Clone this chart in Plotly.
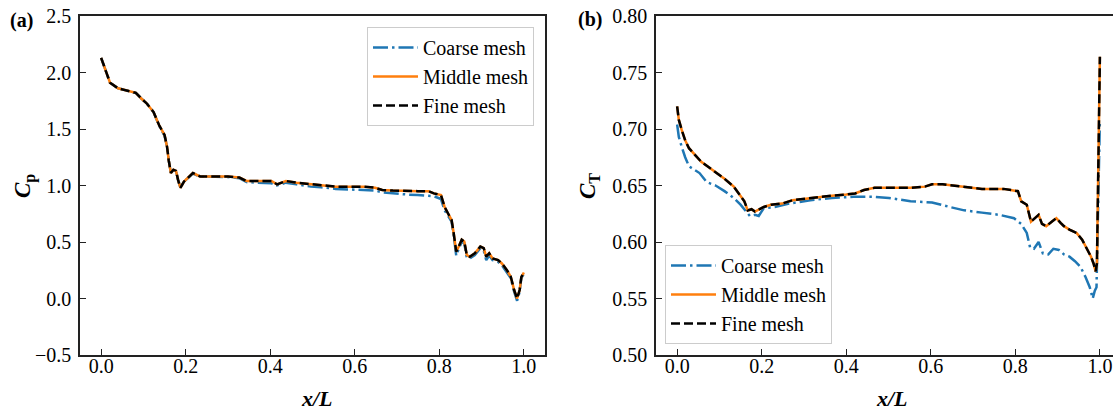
import plotly.graph_objects as go

# ---------------- data ----------------
x_cp = [0.0, 0.01, 0.021, 0.04, 0.065, 0.082, 0.095, 0.107, 0.124, 0.137,
        0.15, 0.156, 0.16, 0.165, 0.171, 0.177, 0.182, 0.1875, 0.196, 0.217,
        0.234, 0.268, 0.30, 0.327, 0.344, 0.369, 0.403, 0.416, 0.437, 0.462,
        0.496, 0.52, 0.555, 0.589, 0.622, 0.648, 0.665, 0.69, 0.724, 0.749,
        0.774, 0.787, 0.804, 0.8125, 0.821, 0.829, 0.834, 0.84, 0.846, 0.853,
        0.859, 0.865, 0.872, 0.884, 0.897, 0.905, 0.911, 0.918, 0.926, 0.939,
        0.948, 0.96, 0.969, 0.977, 0.984, 0.99, 0.994, 1.0]
cp_coarse = [2.13, 2.02, 1.91, 1.86, 1.84, 1.82, 1.77, 1.73, 1.65, 1.53,
             1.44, 1.34, 1.22, 1.11, 1.14, 1.13, 1.05, 0.98, 1.035, 1.105,
             1.08, 1.08, 1.075, 1.065, 1.03, 1.025, 1.02, 1.0, 1.025, 1.01,
             0.99, 0.985, 0.97, 0.965, 0.96, 0.955, 0.94, 0.93, 0.92, 0.915,
             0.91, 0.905, 0.88, 0.78, 0.73, 0.68, 0.56, 0.38, 0.44, 0.50,
             0.49, 0.36, 0.355, 0.385, 0.445, 0.425, 0.34, 0.38, 0.34, 0.325,
             0.295, 0.235, 0.18, 0.06, -0.02, 0.06, 0.18, 0.22]
cp_middle = [2.13, 2.02, 1.91, 1.86, 1.84, 1.82, 1.77, 1.73, 1.65, 1.535,
             1.447, 1.34, 1.22, 1.11, 1.14, 1.13, 1.05, 0.98, 1.035, 1.11,
             1.08, 1.08, 1.08, 1.07, 1.04, 1.04, 1.04, 1.01, 1.04, 1.025,
             1.01, 1.005, 0.99, 0.99, 0.99, 0.98, 0.96, 0.955, 0.95, 0.95,
             0.95, 0.93, 0.915, 0.81, 0.75, 0.695, 0.577, 0.415, 0.46, 0.52,
             0.505, 0.385, 0.37, 0.40, 0.46, 0.445, 0.37, 0.40, 0.355, 0.34,
             0.31, 0.25, 0.193, 0.075, 0.0, 0.075, 0.19, 0.23]
cp_fine = [2.13, 2.02, 1.91, 1.86, 1.84, 1.82, 1.77, 1.73, 1.65, 1.535,
           1.447, 1.34, 1.22, 1.11, 1.14, 1.13, 1.05, 0.98, 1.035, 1.11,
           1.08, 1.08, 1.08, 1.07, 1.04, 1.04, 1.04, 1.01, 1.04, 1.025,
           1.01, 1.005, 0.99, 0.99, 0.99, 0.98, 0.96, 0.955, 0.95, 0.95,
           0.95, 0.93, 0.915, 0.81, 0.75, 0.695, 0.577, 0.415, 0.46, 0.52,
           0.505, 0.385, 0.37, 0.40, 0.46, 0.445, 0.37, 0.40, 0.355, 0.34,
           0.31, 0.25, 0.193, 0.075, 0.0, 0.075, 0.19, 0.23]

x_ct = [0, 0.004, 0.011, 0.019, 0.028, 0.041, 0.057, 0.079, 0.091, 0.112,
        0.134, 0.146, 0.159, 0.167, 0.176, 0.184, 0.193, 0.205, 0.222, 0.248,
        0.273, 0.298, 0.332, 0.366, 0.40, 0.421, 0.442, 0.467, 0.51, 0.552,
        0.586, 0.603, 0.628, 0.653, 0.687, 0.721, 0.772, 0.789, 0.806, 0.814,
        0.827, 0.837, 0.848, 0.855, 0.863, 0.873, 0.886, 0.897, 0.907, 0.915,
        0.928, 0.945, 0.958, 0.97, 0.979, 0.985, 0.99, 0.993, 0.997, 1.0]
ct_middle = [0.720, 0.708, 0.699, 0.690, 0.683, 0.678, 0.671, 0.665, 0.662, 0.656,
             0.649, 0.643, 0.636, 0.628, 0.629, 0.627, 0.629, 0.631, 0.633, 0.634,
             0.637, 0.638, 0.640, 0.641, 0.642, 0.643, 0.646, 0.648, 0.648, 0.648,
             0.649, 0.651, 0.651, 0.650, 0.648, 0.647, 0.647, 0.646, 0.645, 0.636,
             0.633, 0.618, 0.622, 0.624, 0.616, 0.614, 0.618, 0.621, 0.617, 0.614,
             0.611, 0.608, 0.602, 0.594, 0.587, 0.581, 0.574, 0.581, 0.667, 0.764]
ct_fine = [0.720, 0.708, 0.699, 0.690, 0.683, 0.678, 0.671, 0.665, 0.662, 0.656,
           0.649, 0.643, 0.636, 0.628, 0.629, 0.627, 0.629, 0.631, 0.633, 0.634,
           0.637, 0.638, 0.640, 0.641, 0.642, 0.643, 0.646, 0.648, 0.648, 0.648,
           0.649, 0.651, 0.651, 0.650, 0.648, 0.647, 0.647, 0.646, 0.645, 0.636,
           0.633, 0.618, 0.622, 0.624, 0.616, 0.614, 0.618, 0.621, 0.617, 0.614,
           0.611, 0.608, 0.602, 0.594, 0.587, 0.581, 0.574, 0.581, 0.667, 0.764]

x_ct_coarse = [0, 0.004, 0.011, 0.019, 0.028, 0.041, 0.053, 0.07, 0.091, 0.112,
               0.134, 0.15, 0.163, 0.172, 0.184, 0.193, 0.205, 0.231, 0.265, 0.315,
               0.366, 0.417, 0.467, 0.501, 0.552, 0.603, 0.645, 0.679, 0.721, 0.763,
               0.797, 0.814, 0.827, 0.835, 0.844, 0.855, 0.865, 0.878, 0.89, 0.903,
               0.915, 0.928, 0.941, 0.954, 0.966, 0.976, 0.983, 0.988, 0.992, 0.996, 1.0]
ct_coarse = [0.704, 0.693, 0.684, 0.675, 0.667, 0.664, 0.661, 0.653, 0.650, 0.645,
             0.639, 0.633, 0.627, 0.623, 0.624, 0.623, 0.630, 0.631, 0.634, 0.637,
             0.639, 0.640, 0.640, 0.639, 0.636, 0.635, 0.631, 0.628, 0.626, 0.624,
             0.621, 0.616, 0.608, 0.595, 0.594, 0.600, 0.590, 0.589, 0.594, 0.593,
             0.589, 0.587, 0.583, 0.578, 0.569, 0.560, 0.550, 0.557, 0.560, 0.637, 0.708]

series_names = ["Coarse mesh", "Middle mesh", "Fine mesh"]
x_ticks = [0.0, 0.2, 0.4, 0.6, 0.8, 1.0]
x_ticktext = ["0.0", "0.2", "0.4", "0.6", "0.8", "1.0"]
cp_ticks = [-0.5, 0.0, 0.5, 1.0, 1.5, 2.0, 2.5]
cp_ticktext = ["\u22120.5", "0.0", "0.5", "1.0", "1.5", "2.0", "2.5"]
ct_ticks = [0.50, 0.55, 0.60, 0.65, 0.70, 0.75, 0.80]
ct_ticktext = ["0.50", "0.55", "0.60", "0.65", "0.70", "0.75", "0.80"]

# ---------------- style ----------------
W, H = 1113, 411
FONT = "Liberation Serif"
FS = 20
C_COARSE = "#1f77b4"
C_MIDDLE = "#ff7f0e"
C_FINE = "#000000"
LW = 2.5
styles = [
    dict(color=C_COARSE, width=LW, dash="15px,4px,2.5px,4px"),
    dict(color=C_MIDDLE, width=LW, dash="solid"),
    dict(color=C_FINE, width=LW, dash="9px,4px"),
]

fig = go.Figure()
panel_a = [(x_cp, cp_coarse), (x_cp, cp_middle), (x_cp, cp_fine)]
panel_b = [(x_ct_coarse, ct_coarse), (x_ct, ct_middle), (x_ct, ct_fine)]
for i, (xx, yy) in enumerate(panel_a):
    fig.add_trace(go.Scatter(x=xx, y=yy, mode="lines", name=series_names[i],
                             line=styles[i], xaxis="x", yaxis="y",
                             legend="legend"))
for i, (xx, yy) in enumerate(panel_b):
    fig.add_trace(go.Scatter(x=xx, y=yy, mode="lines", name=series_names[i],
                             line=styles[i], xaxis="x2", yaxis="y2",
                             legend="legend2"))

def px_x(p):
    return p / W

def px_y(p):
    return 1 - p / H

axis_common = dict(showline=True, linecolor="#222222", linewidth=1.5,
                   ticks="inside", ticklen=6, tickwidth=1.2, tickcolor="#222222",
                   showgrid=False, zeroline=False, automargin=False,
                   tickfont=dict(family=FONT, size=FS, color="black"))

top, bottom = 16, 355
leg_common = dict(bgcolor="rgba(255,255,255,0.85)", bordercolor="#cccccc", borderwidth=1,
                  font=dict(family=FONT, size=FS, color="black"),
                  tracegroupgap=0, itemwidth=45)
fig.update_layout(
    template="none",
    width=W, height=H,
    margin=dict(l=0, r=0, t=0, b=0, pad=0),
    paper_bgcolor="white", plot_bgcolor="white",
    font=dict(family=FONT, size=FS, color="black"),
    xaxis=dict(domain=[px_x(80), px_x(545)], range=[-0.05, 1.05], anchor="y",
               tickvals=x_ticks, ticktext=x_ticktext, mirror=True,
               ticklabelstandoff=-8, **axis_common),
    yaxis=dict(domain=[px_y(bottom), px_y(top)], range=[-0.5, 2.5], anchor="x",
               tickvals=cp_ticks, ticktext=cp_ticktext, mirror=True,
               ticklabelstandoff=3, **axis_common),
    xaxis2=dict(domain=[px_x(656), 1.0], range=[-0.05, 1.031], anchor="y2",
                tickvals=x_ticks, ticktext=x_ticktext, mirror=True,
                ticklabelstandoff=-8, **axis_common),
    yaxis2=dict(domain=[px_y(bottom), px_y(top)], range=[0.50, 0.80], anchor="x2",
                tickvals=ct_ticks, ticktext=ct_ticktext, mirror=False,
                ticklabelstandoff=3, **axis_common),
    legend=dict(x=px_x(534), y=px_y(27), xanchor="right", yanchor="top", **leg_common),
    legend2=dict(x=px_x(665), y=px_y(344), xanchor="left", yanchor="bottom", **leg_common),
    showlegend=True,
)

ann = []
ann.append(dict(text="<b>(a)</b>", x=px_x(21), y=px_y(20), xref="paper", yref="paper",
                showarrow=False, xanchor="center", yanchor="middle",
                font=dict(family=FONT, size=20, color="black")))
ann.append(dict(text="<b>(b)</b>", x=px_x(590), y=px_y(19), xref="paper", yref="paper",
                showarrow=False, xanchor="center", yanchor="middle",
                font=dict(family=FONT, size=20, color="black")))
for cx in (px_x((80 + 545) / 2 + 4), px_x((656 + 1120) / 2 + 4)):
    ann.append(dict(text="<b><i>x/L</i></b>", x=cx, y=px_y(398), xref="paper", yref="paper",
                    showarrow=False, xanchor="center", yanchor="middle",
                    font=dict(family=FONT, size=22, color="black")))
ann.append(dict(text="<b><i>C</i></b><sub><b>p</b></sub>", x=px_x(24), y=px_y(186),
                xref="paper", yref="paper", showarrow=False, textangle=-90,
                xanchor="center", yanchor="middle",
                font=dict(family=FONT, size=23, color="black")))
ann.append(dict(text="<b><i>C</i></b><sub><b>T</b></sub>", x=px_x(589), y=px_y(186),
                xref="paper", yref="paper", showarrow=False, textangle=-90,
                xanchor="center", yanchor="middle",
                font=dict(family=FONT, size=23, color="black")))
fig.update_layout(annotations=ann)

fig.write_html("out.html", config={"displayModeBar": False},
               post_script="document.body.style.margin='0px';document.body.style.overflow='hidden';")
